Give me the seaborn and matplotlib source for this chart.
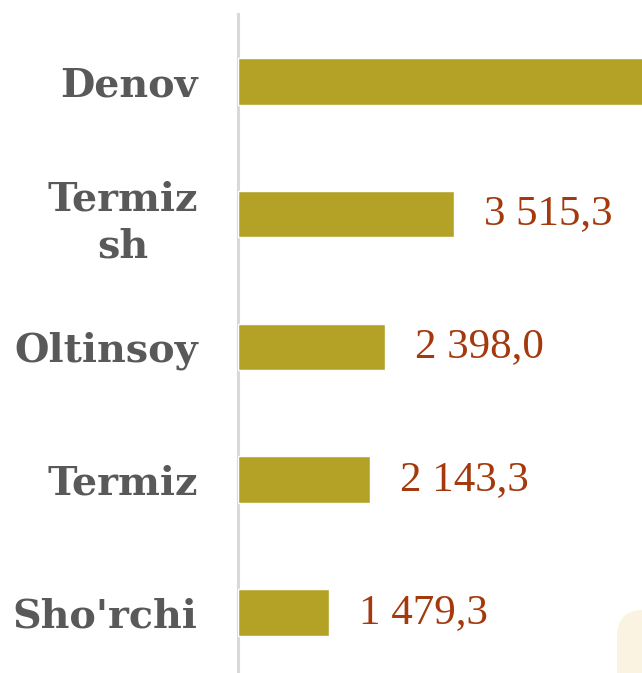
import matplotlib
matplotlib.use("Agg")
import matplotlib.pyplot as plt
import seaborn as sns
import pandas as pd
from matplotlib.patches import FancyBboxPatch

# ── Data ────────────────────────────────────────────────────────────────────

districts = ["Denov", "Termiz\nsh", "Oltinsoy", "Termiz", "Sho'rchi"]
values = [6800.0, 3515.3, 2398.0, 2143.3, 1479.3]   # Denov runs off the frame

BAR_COLOR = "#B4A227"
VALUE_COLOR = "#A3390C"
LABEL_COLOR = "#595959"

df = pd.DataFrame({"district": districts, "value": values})

# ── Plot ────────────────────────────────────────────────────────────────────

sns.set_style("white")

W, H = 642, 673
fig = plt.figure(figsize=(W / 100, H / 100), dpi=100)
ax = fig.add_axes([238 / W, 0, 1 - 238 / W, 1 - 14 / H])

sns.barplot(data=df, x="value", y="district", orient="h",
            color=BAR_COLOR, width=0.35, saturation=1, ax=ax, zorder=3)

ax.set_xlim(0, 6570)
ax.set_ylim(4.456, -0.508)

for i, v in enumerate(values):
    txt = f"{v:,.1f}".replace(",", " ").replace(".", ",")
    ax.annotate(txt, xy=(v, i), xytext=(30, 0), textcoords="offset pixels",
                ha="left", va="center", fontsize=31, color=VALUE_COLOR,
                family="Liberation Serif", annotation_clip=True, clip_on=True)

ax.set_xlabel("")
ax.set_ylabel("")
ax.set_xticks([])
ax.tick_params(axis="y", length=0, pad=29)
for lbl in ax.get_yticklabels():
    lbl.set_fontfamily("DejaVu Serif")
    lbl.set_fontweight("bold")
    lbl.set_fontsize(28.5)
    lbl.set_color(LABEL_COLOR)
    lbl.set_multialignment("center")
    lbl.set_linespacing(1.3)

for side in ["top", "right", "bottom"]:
    ax.spines[side].set_visible(False)
ax.spines["left"].set_color("#D9D9D9")
ax.spines["left"].set_linewidth(2.2)

# pale decorative tab in the lower right corner
fig.patches.append(FancyBboxPatch((617 / W, -0.05), 0.2, (63 / H) + 0.05,
                                  boxstyle="round,pad=0,rounding_size=0.04",
                                  transform=fig.transFigure, facecolor="#FBF3E1",
                                  edgecolor="none", zorder=0))

fig.savefig("out.png", dpi=100)
